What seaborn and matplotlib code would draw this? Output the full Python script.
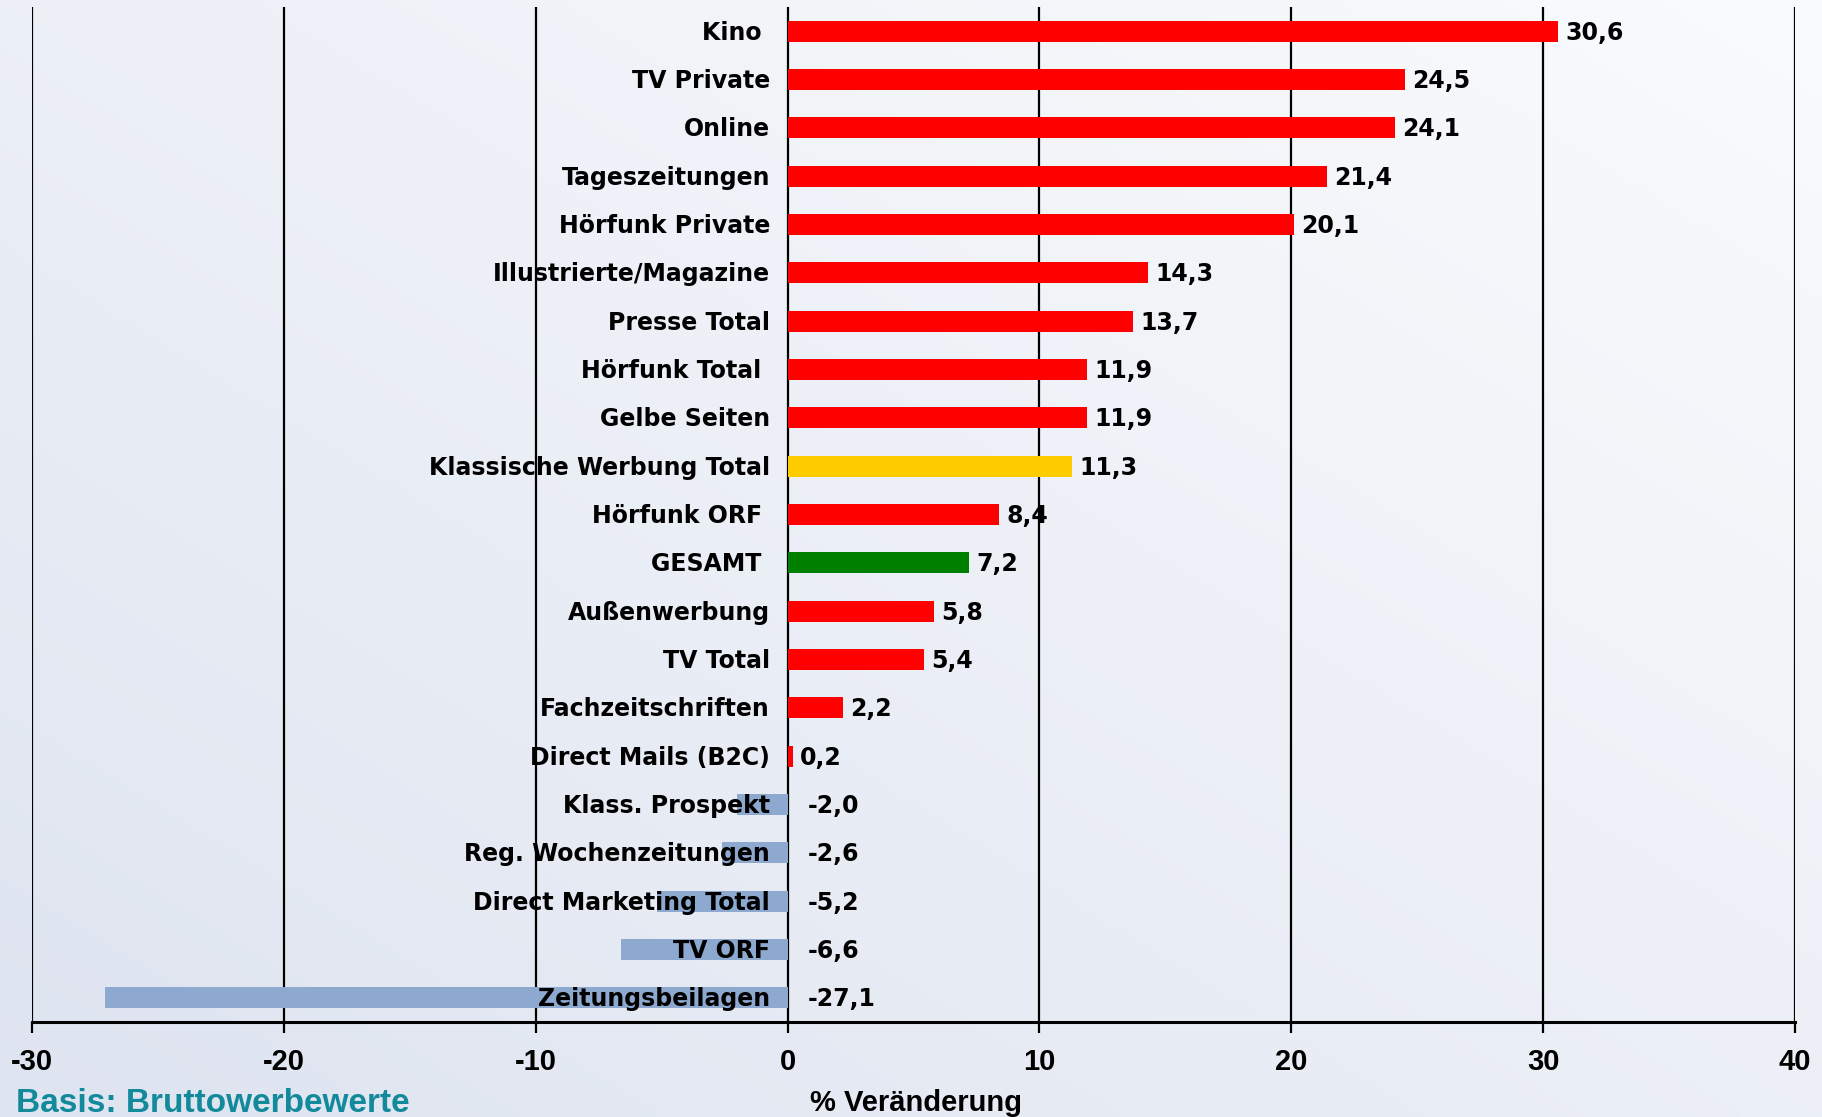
import numpy as np
import pandas as pd
import seaborn as sns
import matplotlib.pyplot as plt

# data, top to bottom as in the chart
categories = ["Kino ", "TV Private", "Online", "Tageszeitungen", "Hörfunk Private",
              "Illustrierte/Magazine", "Presse Total", "Hörfunk Total ", "Gelbe Seiten",
              "Klassische Werbung Total", "Hörfunk ORF ", "GESAMT ", "Außenwerbung",
              "TV Total", "Fachzeitschriften", "Direct Mails (B2C)", "Klass. Prospekt",
              "Reg. Wochenzeitungen", "Direct Marketing Total", "TV ORF", "Zeitungsbeilagen"]
values = [30.6, 24.5, 24.1, 21.4, 20.1, 14.3, 13.7, 11.9, 11.9, 11.3, 8.4, 7.2, 5.8,
          5.4, 2.2, 0.2, -2.0, -2.6, -5.2, -6.6, -27.1]
highlight = {"Klassische Werbung Total": "#FFCC00", "GESAMT ": "#008000"}

df = pd.DataFrame({"Medium": categories, "Veraenderung": values})
colors = [highlight.get(c, "#FF0000" if v >= 0 else "#8EA9D0")
          for c, v in zip(categories, values)]

sns.set_theme(style="white")
plt.rcParams['font.family'] = ['DejaVu Sans']
plt.rcParams['text.color'] = 'black'
plt.rcParams['xtick.color'] = 'black'
plt.rcParams['axes.unicode_minus'] = False

narrow = ['Liberation Sans', 'DejaVu Sans']

fig = plt.figure(figsize=(18.22, 11.17), dpi=100)

# gradient background
bg = fig.add_axes([0, 0, 1, 1], zorder=-10)
yy, xx = np.mgrid[0:1:200j, 0:1:200j]
t = np.clip((xx + (1 - yy)) / 2, 0, 1)
c0 = np.array([0xDE, 0xE4, 0xF0]) / 255
c1 = np.array([0xFA, 0xFB, 0xFD]) / 255
img = c0 * (1 - t[..., None]) + c1 * t[..., None]
bg.imshow(img, aspect="auto", extent=[0, 1, 0, 1], origin="upper")
bg.axis("off")

ax = fig.add_axes([32 / 1822, 1 - 1022 / 1117, (1795 - 32) / 1822, (1022 - 7) / 1117])
ax.patch.set_alpha(0)

sns.barplot(data=df, y="Medium", x="Veraenderung", hue="Medium", palette=colors,
            legend=False, width=0.43, saturation=1, linewidth=0, ax=ax, zorder=3)

ax.set_xlim(-30, 40)
ax.set_ylim(len(categories) - 0.5, -0.5)
ax.set_xticks(range(-30, 41, 10))
for x in range(-30, 41, 10):
    ax.axvline(x, color="black", lw=1.6, zorder=2)

for s in ["top", "right", "left"]:
    ax.spines[s].set_visible(False)
ax.spines["bottom"].set_color("black")
ax.spines["bottom"].set_linewidth(2.2)
ax.tick_params(axis="x", length=8, width=1.6, color="black", direction="out",
               bottom=True, pad=11)
for lbl in ax.get_xticklabels():
    lbl.set_fontweight("bold")
    lbl.set_family(narrow)
    lbl.set_fontsize(21)
ax.set_yticks([])
ax.set_ylabel("")
ax.set_xlabel("")

# category labels left of zero line, values at bar ends
for i, (c, v) in enumerate(zip(categories, values)):
    ax.text(-0.7, i + 0.03, c, ha="right", va="center", fontsize=17, fontweight="bold", zorder=5)
    lab = f"{v:.1f}".replace(".", ",")
    if v >= 0:
        ax.text(v + 0.3, i + 0.03, lab, ha="left", va="center", fontsize=17,
                fontweight="bold", zorder=5)
    else:
        ax.text(0.8, i + 0.03, lab, ha="left", va="center", fontsize=17,
                fontweight="bold", zorder=5)

fig.text(16 / 1822, 1 - 1103 / 1117, "Basis: Bruttowerbewerte", color="#138A9C",
         fontsize=24, fontweight="bold", family=narrow, ha="left", va="center")
fig.text(916 / 1822, 1 - 1103 / 1117, "% Veränderung", fontsize=21, fontweight="bold",
         family=narrow, ha="center", va="center")

fig.savefig("out.png", dpi=100)
